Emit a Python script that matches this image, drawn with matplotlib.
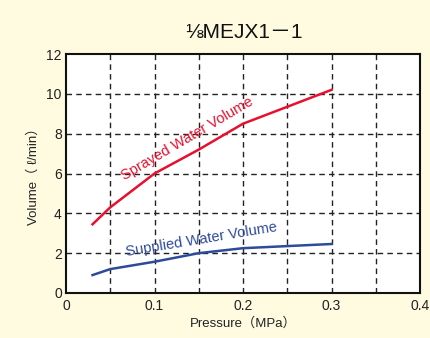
import matplotlib
matplotlib.use("Agg")
import matplotlib.pyplot as plt
import numpy as np

pressure_sprayed = [0.03, 0.05, 0.10, 0.15, 0.20, 0.30]
sprayed_volume = [3.45, 4.3, 6.0, 7.2, 8.5, 10.2]
pressure_supplied = [0.03, 0.05, 0.10, 0.15, 0.20, 0.30]
supplied_volume = [0.9, 1.2, 1.57, 2.0, 2.25, 2.46]

x_ticks = [0, 0.1, 0.2, 0.3, 0.4]
x_tick_labels = ["0", "0.1", "0.2", "0.3", "0.4"]
y_ticks = [0, 2, 4, 6, 8, 10, 12]

title = "⅛MEJX1－1"
xlabel = "Pressure（MPa）"
ylabel = "Volume（ ℓ/min）"

bg = "#FEFBE1"
fams = ["Liberation Sans", "Noto Sans CJK JP", "DejaVu Sans"]
plt.rcParams['font.family'] = fams

fig = plt.figure(figsize=(4.3, 3.38), dpi=100, facecolor=bg)
ax = fig.add_axes([66/430, 1-293/338, (420-66)/430, (293-54)/338])
ax.set_facecolor("white")

ax.plot(pressure_sprayed, sprayed_volume, color="#E8102E", lw=1.8, zorder=3)
ax.plot(pressure_supplied, supplied_volume, color="#2E4A9A", lw=1.8, zorder=3)

ax.set_xlim(0, 0.4)
ax.set_ylim(0, 12)
ax.set_xticks(x_ticks)
ax.set_xticklabels(x_tick_labels)
ax.set_yticks(y_ticks)
for v in np.arange(0.05, 0.4, 0.05):
    ax.axvline(v, color="#222222", lw=1.0, ls=(0, (4, 3)), zorder=1)
for v in y_ticks[1:-1]:
    ax.axhline(v, color="#222222", lw=1.0, ls=(0, (4, 3)), zorder=1)

for s in ax.spines.values():
    s.set_linewidth(1.5)
    s.set_color("#111111")
ax.tick_params(which="both", length=0, labelsize=10, colors="#222222", pad=3)
ax.tick_params(axis="x", pad=4)

ax.set_xlabel(xlabel, fontsize=9.5, color="#222222", labelpad=3)
ax.set_ylabel(ylabel, fontsize=9.5, color="#222222", labelpad=5)

ax.text(0.137, 7.75, "Sprayed Water Volume", color="#E8102E", fontsize=10.5,
        rotation=30.5, ha="center", va="center", rotation_mode="anchor", zorder=4)
ax.text(0.1525, 2.68, "Supplied Water Volume", color="#2E4A9A", fontsize=10.5,
        rotation=9.4, ha="center", va="center", rotation_mode="anchor", zorder=4)

fig.text(244/430, 1-33/338, title, fontsize=15, ha="center", va="center", color="#111111")

fig.savefig("out.png", dpi=100, facecolor=bg)
